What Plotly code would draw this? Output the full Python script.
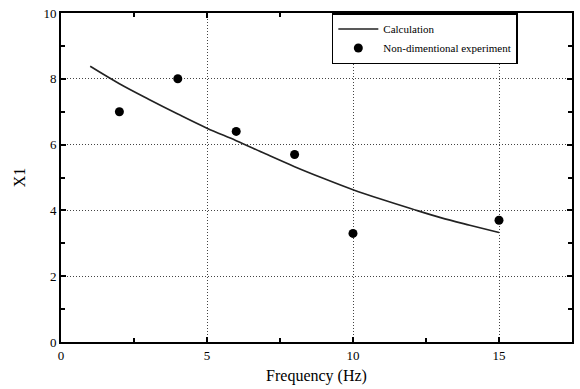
import plotly.graph_objects as go

calc_freq = [1, 2, 3, 4, 5, 6, 7, 8, 9, 10, 11, 12, 13, 14, 15]
calc_x1 = [8.38, 7.85, 7.38, 6.93, 6.5, 6.12, 5.72, 5.33, 4.97, 4.63, 4.33, 4.05, 3.78, 3.55, 3.33]
exp_freq = [2, 4, 6, 8, 10, 15]
exp_x1 = [7.0, 8.0, 6.4, 5.7, 3.3, 3.7]
x_ticks = [0, 5, 10, 15]
y_ticks = [0, 2, 4, 6, 8, 10]

font = "Liberation Serif"
fig = go.Figure()
fig.add_trace(go.Scatter(x=calc_freq, y=calc_x1, mode="lines", name="Calculation",
                         line=dict(color="#222", width=1.6, shape="spline")))
fig.add_trace(go.Scatter(x=exp_freq, y=exp_x1, mode="markers", name="Non-dimentional experiment",
                         marker=dict(color="black", size=9)))

axis_common = dict(showline=True, linecolor="black", linewidth=2, mirror="allticks",
                   ticks="inside", ticklen=5, tickwidth=1.5, tickcolor="black",
                   showgrid=True, gridcolor="#444", griddash="1px,2px", gridwidth=1,
                   zeroline=False, tickfont=dict(family=font, size=13, color="black"))
fig.update_xaxes(range=[0, 17.5], tickvals=x_ticks,
                 minor=dict(dtick=2.5, tick0=0, ticks="inside", ticklen=4, tickcolor="black", showgrid=False),
                 title=dict(text="Frequency (Hz)", font=dict(family=font, size=16, color="black"), standoff=8),
                 **axis_common)
fig.update_yaxes(range=[0, 10], tickvals=y_ticks,
                 minor=dict(dtick=1, tick0=0, ticks="inside", ticklen=4, tickcolor="black", showgrid=False),
                 title=dict(text="X1", font=dict(family=font, size=16, color="black"), standoff=14),
                 **axis_common)
fig.update_layout(width=580, height=389, margin=dict(l=61, r=6, t=10, b=47),
                  paper_bgcolor="white", plot_bgcolor="white",
                  legend=dict(x=0.53, y=1, xanchor="left", yanchor="top",
                              bordercolor="black", borderwidth=1.5, bgcolor="white",
                              font=dict(family=font, size=11, color="black"),
                              tracegroupgap=0, itemwidth=40))
fig.write_html("out.html")
